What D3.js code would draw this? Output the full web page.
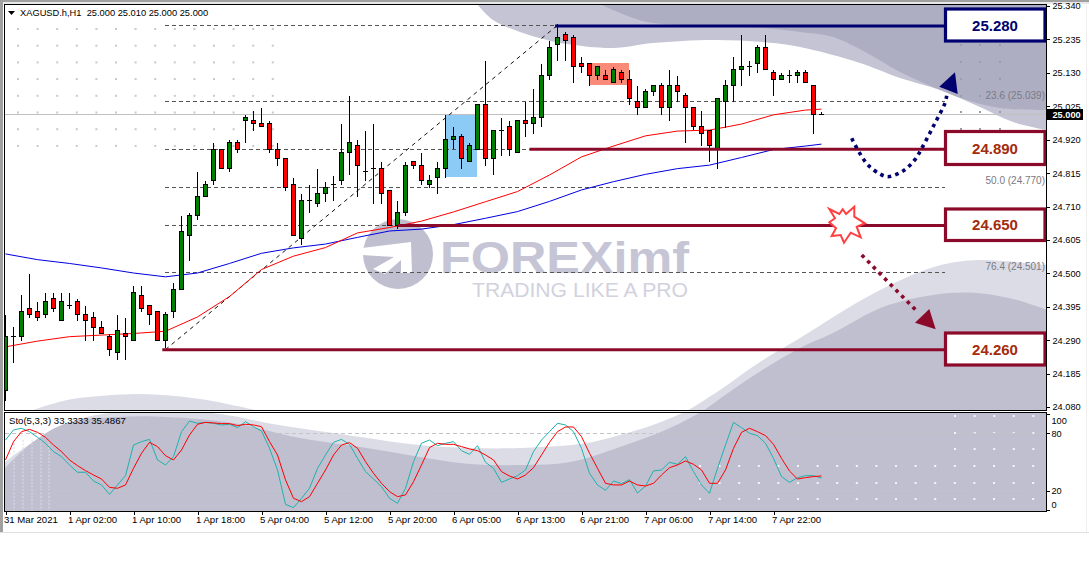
<!DOCTYPE html>
<html>
<head>
<meta charset="utf-8">
<title>XAGUSD H1</title>
<script src="https://cdnjs.cloudflare.com/ajax/libs/d3/7.8.5/d3.min.js"></script>
<style>
body { margin: 0; background: #fff; }
text { font-family: "Liberation Sans", Arial, sans-serif; }
.axis path, .axis line { stroke: #000; shape-rendering: crispEdges; }
.axis text { fill: #000; font-size: 9.6px; }
.yaxis text { font-size: 9.2px; }
</style>
</head>
<body>
<div id="chart"></div>
<script>
//Width and height
var w = 1089;
var h = 566;

// candles, one row per hourly bar
var opens = [24.131,24.303,24.301,24.390,24.381,24.371,24.421,24.352,24.399,24.412,24.371,24.362,24.330,24.302,24.252,24.311,24.289,24.431,24.399,24.381,24.289,24.381,24.450,24.619,24.682,24.741,24.792,24.890,24.830,24.912,24.981,24.981,24.971,24.971,24.890,24.861,24.780,24.610,24.729,24.719,24.750,24.780,24.791,24.880,24.902,24.821,24.830,24.830,24.760,24.651,24.692,24.852,24.840,24.780,24.802,24.830,24.921,24.931,24.852,24.890,25.031,24.861,24.949,24.962,24.880,24.981,24.971,24.990,25.122,25.220,25.251,25.242,25.160,25.160,25.122,25.122,25.100,25.132,25.110,25.041,25.022,25.072,25.091,25.022,25.091,25.059,25.022,24.962,24.949,24.890,25.041,25.091,25.141,25.151,25.160,25.210,25.132,25.110,25.122,25.122,25.132,25.091,25.000];
var highs = [24.372,24.332,24.432,24.500,24.413,24.441,24.441,24.441,24.441,24.421,24.399,24.381,24.352,24.311,24.371,24.362,24.463,24.463,24.399,24.381,24.381,24.472,24.683,24.692,24.821,24.792,24.912,24.890,24.921,24.921,25.000,25.013,25.022,24.981,24.912,24.861,24.802,24.751,24.780,24.830,24.788,24.808,24.971,25.059,24.921,24.949,24.971,24.852,24.760,24.729,24.852,24.852,24.880,24.811,24.852,25.000,24.962,24.940,24.912,25.031,25.170,24.949,24.990,24.981,24.981,25.041,25.082,25.160,25.232,25.284,25.261,25.251,25.182,25.160,25.151,25.141,25.151,25.141,25.141,25.091,25.082,25.091,25.100,25.141,25.122,25.069,25.022,25.012,24.949,25.050,25.110,25.182,25.251,25.170,25.220,25.251,25.141,25.132,25.141,25.141,25.141,25.091,25.010];
var lows = [24.100,24.219,24.288,24.360,24.351,24.360,24.379,24.352,24.390,24.351,24.288,24.288,24.311,24.241,24.228,24.228,24.289,24.381,24.340,24.289,24.267,24.362,24.450,24.540,24.668,24.741,24.780,24.830,24.819,24.880,24.911,24.949,24.962,24.880,24.838,24.760,24.619,24.591,24.690,24.709,24.727,24.728,24.780,24.809,24.741,24.792,24.720,24.720,24.651,24.641,24.682,24.830,24.780,24.770,24.751,24.802,24.891,24.829,24.852,24.890,24.838,24.811,24.870,24.870,24.880,24.931,24.938,24.961,25.110,25.170,25.170,25.100,25.131,25.091,25.110,25.110,25.100,25.100,25.030,24.998,25.022,25.059,24.998,24.980,25.041,24.911,24.953,24.902,24.851,24.829,24.959,25.041,25.091,25.122,25.132,25.141,25.059,25.110,25.100,25.100,25.100,24.938,25.000];
var closes = [24.303,24.303,24.381,24.371,24.362,24.412,24.390,24.412,24.399,24.371,24.352,24.330,24.311,24.260,24.321,24.302,24.440,24.390,24.371,24.289,24.371,24.450,24.632,24.682,24.741,24.780,24.890,24.830,24.912,24.890,24.990,24.971,24.962,24.890,24.861,24.770,24.619,24.729,24.729,24.751,24.770,24.780,24.880,24.912,24.840,24.821,24.830,24.751,24.651,24.692,24.840,24.840,24.792,24.792,24.830,24.921,24.931,24.861,24.902,25.031,24.861,24.949,24.949,24.890,24.981,24.971,24.990,25.122,25.210,25.242,25.232,25.151,25.151,25.122,25.151,25.110,25.141,25.110,25.050,25.022,25.072,25.091,25.022,25.091,25.072,25.022,24.962,24.940,24.902,25.050,25.091,25.141,25.151,25.151,25.210,25.141,25.110,25.122,25.122,25.132,25.100,25.000,25.000];

// moving averages, read every fourth bar
var maBars = [0,4,8,12,16,20,24,28,32,36,40,44,48,52,56,60,64,68,72,76,80,84,88,92,96,100,102];
var maRed = [24.269,24.287,24.301,24.306,24.311,24.318,24.363,24.427,24.512,24.554,24.581,24.627,24.644,24.664,24.693,24.725,24.757,24.809,24.866,24.900,24.932,24.947,24.950,24.969,24.998,25.013,25.016];
var maBlue = [24.561,24.543,24.531,24.517,24.501,24.489,24.501,24.531,24.563,24.580,24.592,24.613,24.633,24.639,24.653,24.673,24.694,24.726,24.762,24.788,24.811,24.829,24.840,24.864,24.889,24.900,24.906];

// stochastic %K and %D
var stoK = [72.9,83.4,85.1,81.6,75.7,69.5,60.8,55.6,46.9,39.3,39.3,30.2,26.1,16.3,26.1,35.8,67.7,71.2,73.6,52.1,46.9,55.6,81.6,92.7,90.3,91.3,90.3,88.6,89.3,85.8,92,86.8,82.3,64.3,41.7,5.9,2.5,12.2,22.6,43.4,57.3,70.5,73.6,68.4,53.8,40,32.3,24.3,12.2,7,22.6,50.4,
  69.5,72.9,67,69.5,71.2,61.8,58,67,49.7,43.4,28.8,32.3,35.8,41.7,60.8,72.9,81.6,90.3,88.6,81.6,64.3,38.2,26.1,20.5,30.2,27.5,31.6,17.7,25,40.7,41.7,49.7,47.6,55.6,40,26.1,17.4,43.4,67.7,91.3,85.8,79.9,77.5,69.5,53.8,34.8,28.8,33.7,35.8,35.8,33.3333];
var stoD = [52.1,71.2,81.6,84,80.9,75.7,67.7,60.8,52.1,46.2,41,36.5,32.3,23.6,22.6,26.1,43.4,59.1,70.5,66,56.6,52.1,62.5,78.2,89.3,91.3,90.7,90,90,87.9,89.3,88.6,86.8,71.2,57.3,31.3,12.2,8.7,13.9,27.8,41.7,57.3,67.7,70.2,64.3,50.4,38.2,27.8,19.1,13.9,15.7,29.5,
  46.9,65,69.5,68.4,68.4,66,63.6,61.8,57.3,52.1,40,35.4,32.3,36.5,44.1,57.3,70.5,81.6,86.5,86.5,76.4,59.1,43.4,27.8,26.1,26.1,30.2,26.1,25,27.8,36.5,44.1,46.9,51.1,47.6,41.7,27.8,27.8,41.7,64.3,80.9,85.1,81.6,77.5,68.4,53.8,40.6,32.3,33.7,34.8,35.4867];

var priceTicks = [25.340,25.235,25.130,25.025,24.920,24.815,24.710,24.605,24.500,24.395,24.290,24.185,24.080];
var stoTicks = [100,80,20,0];
var timeLabels = ["31 Mar 2021","1 Apr 02:00","1 Apr 10:00","1 Apr 18:00","5 Apr 04:00","5 Apr 12:00","5 Apr 20:00","6 Apr 05:00","6 Apr 13:00","6 Apr 21:00","7 Apr 06:00","7 Apr 14:00","7 Apr 22:00"];

// fibonacci retracement
var fibHigh = 25.2795;
var fibLow = 24.2606;
var fibBarHigh = 69;
var fibBarLow = 20;
var fibLevels = [0,23.6,38.2,50,61.8,76.4,100];
var fibLabelled = [23.6,50,76.4];

// the four boxed levels
var levelValues = [25.277,24.890,24.650,24.260];
var levelLabels = ["25.280","24.890","24.650","24.260"];
var levelStartBars = [68.7,65.5,49,19.6];
var levelColors = ["#00006e","#8b0a2a","#8b0a2a","#8b0a2a"];
var levelTextColors = ["#00006e","#a32c0c","#a32c0c","#a32c0c"];
var levelBoxTops = [9,131.5,209,333];
var levelBoxHeights = [32,33,31.5,32];

var x = d3.scaleLinear().domain([0,102]).range([5.5,821.5]);
var y = d3.scaleLinear().domain([25.34,24.08]).range([6,407]);
var yS = d3.scaleLinear().domain([100,0]).range([414,510]);

var crisp = function(v) { return Math.round(v - 0.5) + 0.5; };

var svg = d3.select("#chart")
            .append("svg")
            .attr("width", w)
            .attr("height", h)
            .style("display", "block");

// window chrome
svg.append("rect").attr("width", w).attr("height", 2).attr("fill", "#a0a0a0");
svg.append("rect").attr("width", 3).attr("height", 532).attr("fill", "#a0a0a0");
svg.append("rect").attr("x", 3).attr("y", 2).attr("width", w - 3).attr("height", 2).attr("fill", "#e8e8e8");
svg.append("line").attr("x1", 0).attr("x2", w).attr("y1", 532.5).attr("y2", 532.5).attr("stroke", "#e0e0e0");
svg.append("line").attr("x1", 1086.5).attr("x2", 1086.5).attr("y1", 4).attr("y2", 532).attr("stroke", "#f0f0f0");

var defs = svg.append("defs");
defs.append("clipPath").attr("id", "mainClip").append("rect")
    .attr("x", 5).attr("y", 5).attr("width", 1041).attr("height", 405);
defs.append("clipPath").attr("id", "stoClip").append("rect")
    .attr("x", 5).attr("y", 413).attr("width", 1041).attr("height", 98);

var main = svg.append("g").attr("clip-path", "url(#mainClip)");
var sub = svg.append("g").attr("clip-path", "url(#stoClip)");

var shape = d3.line().curve(d3.curveLinear);
var smooth = d3.line().curve(d3.curveCatmullRom);

// curved top edge closed through the corners
var bgPath = function(edge, corners) {
    return smooth(edge) + corners.map(function(p) { return "L" + p[0] + "," + p[1]; }).join("") + "Z";
};

// watermark background, main window
var bgLight = "#dcdce7", bgMid = "#c4c4d5", bgDark = "#aeaec3", bgSub = "#bfbfd0";

main.append("path").attr("fill", bgMid)
    .attr("d", bgPath([[477,4],[493,20],[520,32],[547,40],[567,44],[613,48],[653,43],[713,40],[763,42],[800,47],[860,63],[900,78],[940,90],[980,107],[1013,122],[1047,130]], [[1047,4]]));
main.append("path").attr("fill", bgDark)
    .attr("d", bgPath([[600,4],[620,13],[647,22],[680,25],[713,26],[763,28],[800,32],[833,37],[867,53],[900,72],[933,87],[967,100],[1000,108],[1047,110]], [[1047,4]]));
main.append("path").attr("fill", bgLight)
    .attr("d", bgPath([[30,411],[67,400],[100,396],[140,394],[175,396],[207,400],[260,411]], []));
main.append("path").attr("fill", bgLight)
    .attr("d", bgPath([[687,411],[720,390],[760,362],[800,338],[867,297],[917,273],[950,263],[983,260],[1047,265]], [[1047,411]]));
main.append("path").attr("fill", bgSub)
    .attr("d", bgPath([[703,411],[750,378],[800,348],[833,333],[883,307],[933,295],[977,293],[1017,300],[1047,310]], [[1047,411]]));

// watermark logo
main.append("circle").attr("cx", 398).attr("cy", 254).attr("r", 35).attr("fill", bgSub);
main.append("path").attr("fill", "#fff")
    .attr("d", shape([[362,248],[411,242],[412,273],[401,273],[401,260],[385,274],[373,269],[394,257],[362,255]]) + "Z");
main.append("text").attr("x", 440).attr("y", 273).attr("textLength", 249).attr("lengthAdjust", "spacingAndGlyphs")
    .attr("fill", "#c5c5d6").style("font-size", "44px").style("font-weight", "bold").text("FOREXimf");
main.append("text").attr("x", 472).attr("y", 297).attr("textLength", 216).attr("lengthAdjust", "spacingAndGlyphs")
    .attr("fill", "#d2d2de").style("font-size", "20px").text("TRADING LIKE A PRO");

// background dots
var dotCols = d3.range(14).map(function(k) { return 18 + 19.6 * k; });
var dotRows = d3.range(8).map(function(k) { return 29 + 16.7 * k; });
dotCols.forEach(function(dx) {
    dotRows.forEach(function(dy) {
        main.append("rect").attr("x", dx - 1).attr("y", dy - 1).attr("width", 2).attr("height", 2).attr("fill", "#c8c8d2");
    });
});
[961,980,1000].forEach(function(dx) {
    [45,62,79,96,112,129].forEach(function(dy) {
        main.append("rect").attr("x", dx - 1).attr("y", dy - 1).attr("width", 2).attr("height", 2).attr("fill", "#9c9cb0");
    });
});

// highlight rectangles
main.append("rect").attr("x", 446).attr("y", 114).attr("width", 31).attr("height", 63).attr("fill", "#8ccbf5");
main.append("rect").attr("x", 590).attr("y", 63).attr("width", 39).attr("height", 22).attr("fill", "#f98a78");

// current price line
main.append("line").attr("x1", 5).attr("x2", 1047)
    .attr("y1", crisp(y(25.000))).attr("y2", crisp(y(25.000)))
    .attr("stroke", "#c0c0c0");

// fibonacci levels and trend line
main.selectAll("line.fib")
    .data(fibLevels)
    .enter()
    .append("line")
    .attr("class", "fib")
    .attr("x1", 165)
    .attr("x2", 945)
    .attr("y1", function(d) { return crisp(y(fibHigh - d / 100 * (fibHigh - fibLow))); })
    .attr("y2", function(d) { return crisp(y(fibHigh - d / 100 * (fibHigh - fibLow))); })
    .attr("stroke", "#555")
    .attr("stroke-dasharray", "4 3");
main.append("line")
    .attr("x1", x(fibBarLow)).attr("y1", y(fibLow))
    .attr("x2", x(fibBarHigh)).attr("y2", y(fibHigh))
    .attr("stroke", "#111")
    .attr("stroke-dasharray", "4 4");
main.selectAll("text.fibLabel")
    .data(fibLabelled)
    .enter()
    .append("text")
    .attr("class", "fibLabel")
    .attr("x", 1045)
    .attr("y", function(d) { return y(fibHigh - d / 100 * (fibHigh - fibLow)) - 3; })
    .attr("text-anchor", "end")
    .attr("fill", "#7a7a82")
    .style("font-size", "10px")
    .text(function(d) {
        return d.toFixed(1) + " (" + (fibHigh - d / 100 * (fibHigh - fibLow)).toFixed(3) + ")";
    });

// moving averages
var maLine = function(values) {
    return d3.line()
        .x(function(d, i) { return x(maBars[i]); })
        .y(function(d) { return y(d); })(values);
};
main.append("path").attr("d", maLine(maBlue)).attr("fill", "none").attr("stroke", "#0000e0").attr("stroke-width", 1);
main.append("path").attr("d", maLine(maRed)).attr("fill", "none").attr("stroke", "#ff0000").attr("stroke-width", 1);

// candles
var candles = main.selectAll("g.candle")
    .data(opens.map(function(o, i) { return {i: i, o: o, h: highs[i], l: lows[i], c: closes[i]}; }))
    .enter()
    .append("g")
    .attr("class", "candle")
    .style("shape-rendering", "crispEdges");
candles.append("line")
    .attr("x1", function(d) { return x(d.i); })
    .attr("x2", function(d) { return x(d.i); })
    .attr("y1", function(d) { return crisp(y(d.h)); })
    .attr("y2", function(d) { return crisp(y(d.l)) + 0.5; })
    .attr("stroke", "#000");
candles.filter(function(d) { return d.o === d.c; }).append("line")
    .attr("x1", function(d) { return x(d.i) - 2.5; })
    .attr("x2", function(d) { return x(d.i) + 2.5; })
    .attr("y1", function(d) { return crisp(y(d.c)); })
    .attr("y2", function(d) { return crisp(y(d.c)); })
    .attr("stroke", "#000");
candles.filter(function(d) { return d.o !== d.c; }).append("rect")
    .attr("x", function(d) { return x(d.i) - 2; })
    .attr("width", 4)
    .attr("y", function(d) { return crisp(y(Math.max(d.o, d.c))); })
    .attr("height", function(d) { return crisp(y(Math.min(d.o, d.c))) - crisp(y(Math.max(d.o, d.c))); })
    .attr("fill", function(d) { return d.c > d.o ? "#008000" : "#ff0000"; })
    .attr("stroke", "#000");

// level lines and boxes
main.selectAll("line.level")
    .data(levelValues)
    .enter()
    .append("line")
    .attr("class", "level")
    .attr("x1", function(d, i) { return x(levelStartBars[i]); })
    .attr("x2", 945)
    .attr("y1", function(d) { return y(d); })
    .attr("y2", function(d) { return y(d); })
    .attr("stroke", function(d, i) { return levelColors[i]; })
    .attr("stroke-width", 3);
main.selectAll("rect.levelBox")
    .data(levelValues)
    .enter()
    .append("rect")
    .attr("class", "levelBox")
    .attr("x", 945.5)
    .attr("width", 99.5)
    .attr("y", function(d, i) { return levelBoxTops[i]; })
    .attr("height", function(d, i) { return levelBoxHeights[i]; })
    .attr("fill", "#fff")
    .attr("stroke", function(d, i) { return levelColors[i]; })
    .attr("stroke-width", 3.2);
main.selectAll("text.levelText")
    .data(levelLabels)
    .enter()
    .append("text")
    .attr("class", "levelText")
    .attr("x", 995)
    .attr("y", function(d, i) { return levelBoxTops[i] + levelBoxHeights[i] / 2 + 5.5; })
    .attr("text-anchor", "middle")
    .attr("fill", function(d, i) { return levelTextColors[i]; })
    .style("font-size", "15px")
    .style("font-weight", "bold")
    .text(function(d) { return d; });

// dotted arrows
var bluePath = [[851.7,138.3],[859,152],[868,165],[880,174],[888,176.7],[903,171],[914.7,160],[923,146],[934,125],[945,103],[946.7,95.7]];
main.append("path").attr("d", smooth(bluePath)).attr("fill", "none")
    .attr("stroke", "#00006e").attr("stroke-width", 3.6).attr("stroke-dasharray", "3.6 4.2");
main.append("path").attr("d", shape([[955,72.3],[939.3,86.7],[957.7,94]]) + "Z").attr("fill", "#00006e");
main.append("line").attr("x1", 861.7).attr("y1", 255).attr("x2", 918.3).attr("y2", 312.7)
    .attr("stroke", "#8b0a2a").attr("stroke-width", 3.6).attr("stroke-dasharray", "3.6 4.5");
main.append("path").attr("d", shape([[929.3,309],[915,322.7],[935.7,329.3]]) + "Z").attr("fill", "#8b0a2a");

// burst
var burst = [[829.3,209],[839.3,214],[842.7,209.3],[846,214],[854.3,206.7],[854.3,216.7],[865,223.3],[856.7,226.7],[860.7,237.3],[850.7,232.7],[844,242.7],[840.7,235],[831.7,236],[836,228.3],[829.3,222.3],[835,218.3]];
main.append("path").attr("d", shape(burst) + "Z").attr("fill", "#fff").attr("stroke", "#ff4040").attr("stroke-width", 2);

// stochastic window
sub.append("rect").attr("x", 5).attr("y", 413).attr("width", 1041).attr("height", 98).attr("fill", "#fff");
sub.append("path").attr("fill", bgLight)
    .attr("d", bgPath([[5,462],[33,442],[60,428],[83,418],[110,413],[133,412],[200,412],[233,416],[267,423],[333,433],[420,445],[470,448],[520,448],[587,443],[620,435],[653,425],[687,411]], [[1047,411],[1047,512],[5,512]]));
sub.append("path").attr("fill", bgSub)
    .attr("d", bgPath([[5,468],[33,442],[67,423],[117,417],[167,417],[233,423],[300,438],[367,448],[420,457],[470,464],[520,465],[570,462],[620,447],[670,428],[703,411]], [[1047,411],[1047,512],[5,512]]));

// white dots
[466,483,499].forEach(function(dy) {
    d3.range(18).forEach(function(k) {
        sub.append("rect").attr("x", 699 + 19.6 * k).attr("y", dy - 1).attr("width", 2).attr("height", 2).attr("fill", "#f4f4f8");
    });
});
[416,433,449].forEach(function(dy) {
    d3.range(5).forEach(function(k) {
        sub.append("rect").attr("x", 954 + 19.6 * k).attr("y", dy - 1).attr("width", 2).attr("height", 2).attr("fill", "#f4f4f8");
    });
});
[14,23,32,41,49].forEach(function(dx) {
    sub.append("line").attr("x1", dx).attr("x2", dx).attr("y1", 440).attr("y2", 511)
        .attr("stroke", "#dcdce6").attr("stroke-dasharray", "2 1.5");
});

sub.selectAll("line.stoLevel")
    .data([80,20])
    .enter()
    .append("line")
    .attr("class", "stoLevel")
    .attr("x1", 5)
    .attr("x2", 1046)
    .attr("y1", function(d) { return crisp(yS(d)); })
    .attr("y2", function(d) { return crisp(yS(d)); })
    .attr("stroke", "#c4c4c8")
    .attr("stroke-dasharray", "4 3");

var stoLine = d3.line()
    .x(function(d, i) { return x(i); })
    .y(function(d) { return yS(d); });
sub.append("path").attr("d", stoLine(stoK)).attr("fill", "none").attr("stroke", "#20b2aa").attr("stroke-width", 1);
sub.append("path").attr("d", stoLine(stoD)).attr("fill", "none").attr("stroke", "#ff0000").attr("stroke-width", 1);

// frames
svg.append("rect").attr("x", 4.5).attr("y", 4.5).attr("width", 1042).attr("height", 406)
    .attr("fill", "none").attr("stroke", "#000").style("shape-rendering", "crispEdges");
svg.append("rect").attr("x", 4.5).attr("y", 412.5).attr("width", 1042).attr("height", 99)
    .attr("fill", "none").attr("stroke", "#000").style("shape-rendering", "crispEdges");

// axes
svg.append("g")
    .attr("class", "axis yaxis")
    .attr("transform", "translate(1046.5,0)")
    .call(d3.axisRight(y).tickValues(priceTicks).tickFormat(d3.format(".3f")).tickSize(3).tickSizeOuter(0))
    .call(function(g) { g.select(".domain").remove(); g.selectAll("text").attr("x", 6); });

svg.append("g")
    .attr("class", "axis yaxis")
    .attr("transform", "translate(1046.5,0)")
    .call(d3.axisRight(yS).tickValues(stoTicks).tickFormat(d3.format("d")).tickSize(3).tickSizeOuter(0))
    .call(function(g) {
        g.select(".domain").remove();
        g.selectAll("text")
            .attr("x", 5)
            .attr("dy", function(d) { return d === 100 ? "1em" : d === 0 ? "-0.22em" : "0.32em"; });
    });

var labelBars = timeLabels.map(function(d, i) { return i * 8; });
svg.append("g")
    .attr("class", "axis")
    .attr("transform", "translate(0,511.5)")
    .call(d3.axisBottom(x)
        .tickValues(labelBars)
        .tickFormat(function(d, i) { return timeLabels[i]; })
        .tickSize(3)
        .tickSizeOuter(0))
    .call(function(g) {
        g.select(".domain").remove();
        g.selectAll("text").attr("text-anchor", "start").attr("x", -2).attr("y", 5).attr("dy", "0.71em");
    });

// current price label
svg.append("rect").attr("x", 1047).attr("y", 109).attr("width", 36).attr("height", 11).attr("fill", "#000");
svg.append("text").attr("x", 1052.5).attr("y", 118).attr("fill", "#fff")
    .style("font-size", "9.2px").style("font-weight", "bold").text("25.000");

// header texts
svg.append("path").attr("d", shape([[8,11],[15,11],[11.5,15]]) + "Z").attr("fill", "#000");
svg.append("text").attr("x", 20).attr("y", 16).attr("fill", "#000")
    .attr("xml:space", "preserve")
    .style("white-space", "pre")
    .style("font-size", "9.3px").text("XAGUSD.h,H1  25.000 25.010 25.000 25.000");
svg.append("text").attr("x", 9).attr("y", 424).attr("fill", "#000")
    .style("font-size", "9.6px").text("Sto(5,3,3) 33.3333 35.4867");
</script>
</body>
</html>
